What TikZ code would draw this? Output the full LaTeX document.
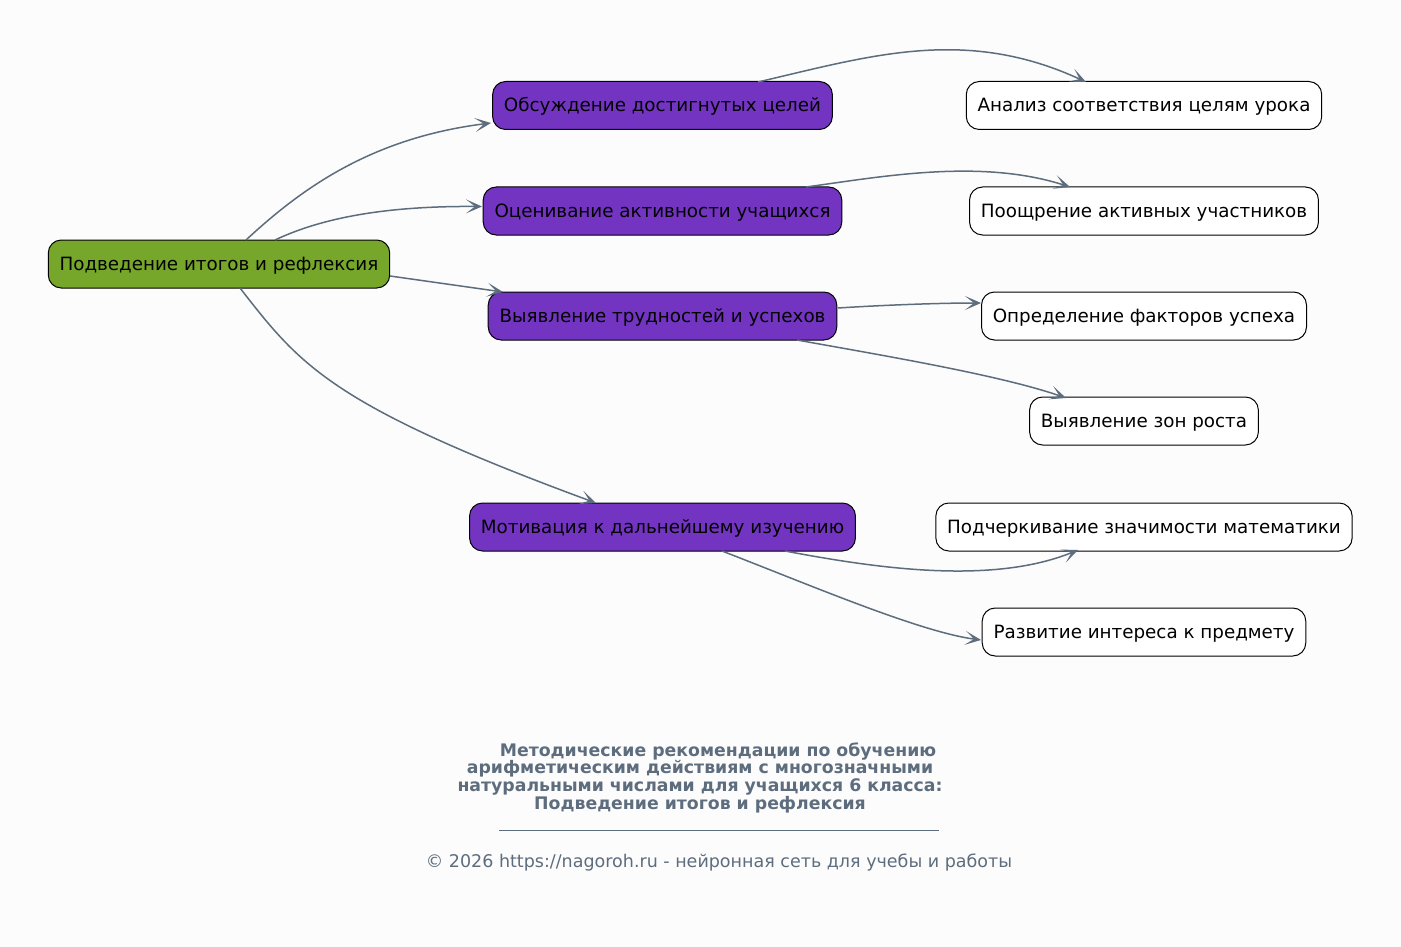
\documentclass[tikz,border=0pt]{standalone}
\usepackage{fontspec}
\setmainfont{DejaVu Sans}
\usetikzlibrary{arrows.meta}
\definecolor{bg}{HTML}{FCFCFC}
\definecolor{edge}{HTML}{5D6D7E}
\definecolor{rootc}{HTML}{77A72A}
\definecolor{purp}{HTML}{7434C2}
\tikzset{
  base/.style={draw=black, line width=1pt, rounded corners=13pt, minimum height=48pt, inner xsep=11.3pt, text height=16pt, text depth=3.5pt, font=\fontsize{18.3}{21}\selectfont, text=black},
  rootbox/.style={base, fill=rootc},
  midbox/.style={base, fill=purp},
  leafbox/.style={base, fill=white},
  conn/.style={draw=edge, line width=1.5pt, -{Stealth[length=16pt,width=14pt,inset=9pt]}},
  ttl/.style={text=edge, font=\bfseries\fontsize{17.3}{20}\selectfont, inner sep=0pt},
}
\begin{document}
\begin{tikzpicture}[x=1pt,y=-1pt]
\fill[bg] (0,0) rectangle (1401,947);
\useasboundingbox (0,0) rectangle (1401,947);
\node[rootbox] (r) at (219,264) {Подведение итогов и рефлексия};
\node[midbox] (p1) at (662.5,105.5) {Обсуждение достигнутых целей};
\node[midbox] (p2) at (662.5,211) {Оценивание активности учащихся};
\node[midbox] (p3) at (662.5,316) {Выявление трудностей и успехов};
\node[midbox] (p4) at (662.5,527) {Мотивация к дальнейшему изучению};
\node[leafbox] (w1) at (1144,105.5) {Анализ соответствия целям урока};
\node[leafbox] (w2) at (1144,211) {Поощрение активных участников};
\node[leafbox] (w3) at (1144,316) {Определение факторов успеха};
\node[leafbox] (w4) at (1144,421) {Выявление зон роста};
\node[leafbox] (w5) at (1144,527) {Подчеркивание значимости математики};
\node[leafbox] (w6) at (1144,632) {Развитие интереса к предмету};

\coordinate (r1) at (246,240);
\coordinate (r2) at (275,240);
\coordinate (r3) at (390,276);
\coordinate (r4) at (240,288);
\coordinate (p1a) at (491,123);
\coordinate (p2a) at (482,206.5);
\coordinate (p3a) at (503,292);
\coordinate (p4a) at (596,503);
\draw[conn] (r1) .. controls (300,190) and (370,138) .. (p1a);
\draw[conn] (r2) .. controls (330,214) and (400,206) .. (p2a);
\draw[conn] (r3) -- (p3a);
\draw[conn] (r4) .. controls (300,365) and (330,405) .. (p4a);

\coordinate (p1b) at (758,82);
\coordinate (w1a) at (1086,82);
\draw[conn] (p1b) .. controls (870,56) and (965,26) .. (w1a);
\coordinate (p2b) at (806,187);
\coordinate (w2a) at (1070,187);
\draw[conn] (p2b) .. controls (880,177) and (980,158) .. (w2a);
\coordinate (p3b) at (838,308);
\coordinate (w3a) at (981,303);
\draw[conn] (p3b) .. controls (885,305) and (940,303) .. (w3a);
\coordinate (p3c) at (797,340);
\coordinate (w4a) at (1066,398);
\draw[conn] (p3c) .. controls (880,355) and (1000,375) .. (w4a);
\coordinate (p4b) at (785,551);
\coordinate (w5a) at (1078,550);
\draw[conn] (p4b) .. controls (870,567) and (990,586) .. (w5a);
\coordinate (p4c) at (722,551);
\coordinate (w6a) at (981,640);
\draw[conn] (p4c) .. controls (810,585) and (920,632) .. (w6a);

\node[ttl] (t1) at (718,751.5) {Методические рекомендации по обучению};
\node[ttl] (t2) at (700,769) {арифметическим действиям с многозначными};
\node[ttl] (t3) at (700,786.5) {натуральными числами для учащихся 6 класса:};
\node[ttl] (t4) at (700,804.5) {Подведение итогов и рефлексия};
\draw[edge, line width=0.8pt] (499,830.5) -- (939,830.5);
\node[text=edge, font=\fontsize{17.5}{20}\selectfont, inner sep=0pt] (ft) at (719,863) {© 2026 https://nagoroh.ru - нейронная сеть для учебы и работы};
\end{tikzpicture}
\end{document}
